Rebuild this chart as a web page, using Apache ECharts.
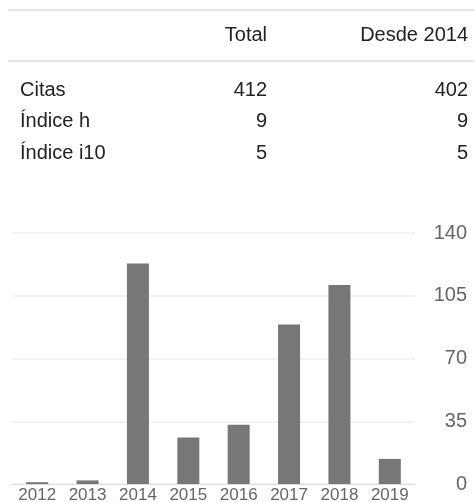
<!DOCTYPE html>
<html>
<head>
<meta charset="utf-8">
<script src="https://cdn.jsdelivr.net/npm/echarts@6/dist/echarts.min.js"></script>
<style>
    html, body { margin: 0; padding: 0; background: #fff; }
    #chart { width: 475px; height: 502px; }
</style>
</head>
<body>
<div id="chart"></div>
<script>
// datos de la tabla
const headers = ['Total', 'Desde 2014'];
const rowLabels = ['Citas', 'Índice h', 'Índice i10'];
const totalVals = ['412', '9', '5'];
const sinceVals = ['402', '9', '5'];

// datos del gráfico
const years = ['2012', '2013', '2014', '2015', '2016', '2017', '2018', '2019'];
const citations = [1, 2, 123, 26, 33, 89, 111, 14];
const yTicks = [0, 35, 70, 105, 140];

const FONT = 'Arial, "Liberation Sans", sans-serif';
const chart = echarts.init(document.getElementById('chart'));

// texto de la tabla
function textEl(str, x, y, align, color) {
    return {
        type: 'text',
        style: {
            text: str,
            x: x,
            y: y,
            align: align,
            verticalAlign: 'middle',
            font: '20px ' + FONT,
            fill: color || '#222'
        }
    };
}

function lineEl(y) {
    return {
        type: 'line',
        shape: { x1: 8, y1: y, x2: 475, y2: y },
        style: { stroke: '#e6e6e6', lineWidth: 2 }
    };
}

const graphics = [lineEl(10), lineEl(61)];
graphics.push(textEl(headers[0], 267, 35, 'right'));
graphics.push(textEl(headers[1], 468, 35, 'right'));
const rowY = [90, 121.5, 153];
rowLabels.forEach((label, i) => {
    graphics.push(textEl(label, 20, rowY[i], 'left'));
    graphics.push(textEl(totalVals[i], 267, rowY[i], 'right'));
    graphics.push(textEl(sinceVals[i], 468, rowY[i], 'right'));
});

chart.setOption({
    animation: false,
    grid: {
        left: 12,
        right: 60,
        top: 233,
        bottom: 18,
        outerBoundsMode: 'none'
    },
    graphic: graphics,
    xAxis: {
        type: 'category',
        data: years,
        axisTick: { show: false },
        axisLine: { lineStyle: { color: '#dcdcdc', width: 1 } },
        axisLabel: {
            color: '#666',
            fontSize: 17,
            fontFamily: FONT,
            margin: 3,
            interval: 0
        }
    },
    yAxis: {
        type: 'value',
        position: 'right',
        min: 0,
        max: yTicks[yTicks.length - 1],
        interval: yTicks[1] - yTicks[0],
        axisLine: { show: false },
        axisTick: { show: false },
        splitLine: { lineStyle: { color: '#eeeeee', width: 1.5 } },
        axisLabel: {
            color: '#666',
            fontSize: 20,
            fontFamily: FONT,
            align: 'right',
            margin: 52
        }
    },
    series: [{
        type: 'bar',
        data: citations,
        barWidth: 22,
        itemStyle: { color: '#777777' }
    }]
});
</script>
</body>
</html>
